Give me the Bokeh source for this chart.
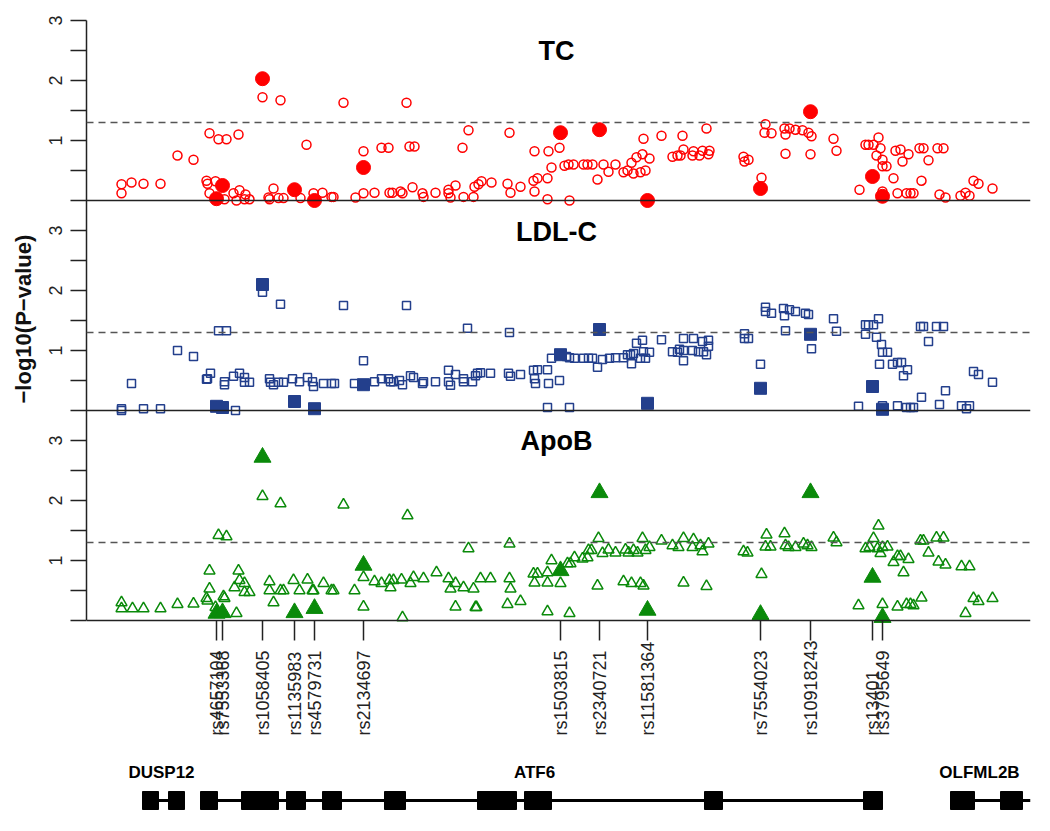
import numpy as np
from bokeh.plotting import figure
from bokeh.models import Range1d, FixedTicker, CustomJSTickFormatter, Span, ColumnDataSource, Title
from bokeh.transform import dodge
from bokeh.core.properties import value
from bokeh.embed import file_html
from bokeh.resources import INLINE

# ---------------- data (positions in kb from region start, values = -log10 P) -------------
snp_names = ["rs4657104", "rs7553368", "rs1058405", "rs1135983", "rs4579731", "rs2134697",
             "rs1503815", "rs2340721", "rs11581364", "rs7554023", "rs10918243", "rs13401", "rs3795649"]
snp_pos = [32.5, 34, 44, 52, 57, 69.25, 118.5, 128.25, 140.25, 168.5, 181, 196.5, 199]
tc_typed = [0.03, 0.25, 2.03, 0.18, 0.0, 0.55, 1.13, 1.18, 0.0, 0.2, 1.48, 0.4, 0.07]
ldl_typed = [0.07, 0.05, 2.1, 0.15, 0.03, 0.43, 0.93, 1.35, 0.12, 0.37, 1.27, 0.4, 0.02]
apob_typed = [0.12, 0.13, 2.72, 0.13, 0.2, 0.92, 0.83, 2.13, 0.17, 0.1, 2.13, 0.72, 0.05]

tc_pos = [8.75, 8.75, 11.25, 14.25, 18.5, 22.75, 26.75, 30, 30.25, 30.75, 30.75, 32.25, 33, 34.5, 35, 36.75, 37.5, 38, 38.25, 39.5, 39.75, 40.75, 44, 45.5, 45.75, 46.75, 48, 48.5, 49.25, 53.5, 55, 56.75, 59, 61.25, 61.75, 64.25,
          67.25, 69.25, 69.25, 72, 73.75, 75.5, 75.75, 76.5, 78.5, 79, 80, 80.75, 81.5, 82, 84, 84.25, 87.25, 90.5, 90.5, 91, 92.25, 94, 94.25, 95.5, 96.75, 97, 98, 98.75, 101.25, 105.25, 105.75, 106, 108.5, 111.75, 112, 112, 112.75, 115.25, 115.25, 115.5, 116.25, 118.25, 119.5, 120.5, 120.75, 121.75, 124.25, 125.25, 126.5, 127.75, 129.25, 130.5, 132.25, 134.25, 135.25, 136.25, 136.75, 137.5, 138.5, 139, 139.25, 139.75, 140.75, 143.75, 146.5, 147.75, 148.5, 149, 149.25,
          151.5, 151.75, 153.25, 154, 155, 155.5, 155.75, 164.25, 164.5, 165.5, 168.75, 169.5, 169.75, 171.25, 174.5, 174.75, 174.75, 175.75, 177.25, 179, 180.5, 181, 181.25, 186.75, 187.5, 193.25, 194.75, 195.5, 196.75, 197.5, 198, 198.5, 199, 199, 199, 200, 201.75, 202.25, 202.75, 203.5, 204, 205, 205.5, 206, 206.75, 208.25, 208.75, 209.25, 210.5, 212.75, 213.25, 214.25, 214.75, 218.5, 219.75, 220.75, 221.75, 223, 226.5]
tc_val = [0.27, 0.12, 0.30, 0.28, 0.28, 0.75, 0.68, 0.33, 0.28, 1.12, 0.12, 0.32, 1.02, 0.02, 1.02, 0.12, 0.0, 1.10, 0.17, 0.02, 0.10, 0.02, 1.72, 0.05, 0.02, 0.20, 0.04, 1.67, 0.04, 0.04, 0.93, 0.12, 0.13, 0.06, 0.06, 1.63,
          0.05, 0.82, 0.12, 0.13, 0.88, 0.88, 0.13, 0.13, 0.15, 0.12, 1.63, 0.90, 0.22, 0.90, 0.12, 0.06, 0.13, 0.18, 0.12, 0.05, 0.25, 0.88, 0.06, 1.17, 0.06, 0.23, 0.27, 0.32, 0.30, 0.28, 1.13, 0.13, 0.23, 0.33, 0.82, 0.15, 0.37, 0.37, 0.02, 0.82, 0.55, 0.88, 0.58, 0.60, 0.0, 0.60, 0.60, 0.60, 0.60, 0.35, 0.60, 0.48, 0.60, 0.47, 0.50, 0.63, 0.45, 0.72, 0.47, 0.77, 1.03, 0.50, 0.70, 1.08, 0.73, 0.75, 0.75, 1.08, 0.85,
          0.75, 0.82, 0.75, 0.83, 1.20, 0.77, 0.83, 0.73, 0.65, 0.68, 0.38, 1.13, 1.27, 1.12, 1.20, 1.10, 0.78, 1.20, 1.18, 1.17, 1.13, 0.77, 1.07, 1.03, 0.83, 0.18, 0.93, 0.93, 0.93, 0.75, 1.05, 0.87, 0.68, 0.57, 0.15, 0.57, 0.37, 0.83, 0.12, 0.85, 0.65, 0.12, 0.77, 0.12, 0.12, 0.87, 0.33, 0.87, 0.67, 0.87, 0.10, 0.87, 0.05, 0.08, 0.13, 0.08, 0.33, 0.28, 0.20]

ldl_pos = [8.75, 8.75, 11.25, 14.25, 18.5, 22.75, 26.75, 30, 30.25, 31, 33, 35, 34.5, 34.5, 37.25, 36.75, 38.25, 39.5, 39.5, 40.75, 44, 48.5, 45.75, 46, 46.75, 48, 49.25, 51.5, 53.25, 55.25, 56.5, 56.75, 59.25, 61.25, 62, 64.25,
           80, 69.25, 67, 72, 73.75, 75.5, 76, 76.75, 78.25, 79, 81, 81.75, 84, 84.25, 87.25, 90.5, 90.5, 91, 92.25, 94.25, 94.25, 96.5, 97.25, 97.75, 98.5, 101, 95.25, 105.75, 105.5, 106, 108.5, 111.75, 112, 112.25, 112.75, 115.25, 115.5, 118.25, 115.25, 120.75, 116.25, 120, 120.75, 122, 124.25, 125.5, 126.5, 127.75, 129, 130.75, 132.25, 134.25, 135.25, 136, 136.25, 136.75, 137.5, 138.5, 139, 139.25, 139.75, 140.75, 143.75, 146.5, 147.75, 148.25, 149.25, 149.25,
           149.25, 151.75, 151.5, 153, 154, 154.25, 155.5, 155.5, 155, 164.5, 164.5, 165.5, 168.5, 169.75, 169.75, 171.25, 174.25, 174.5, 175.75, 177.25, 179.75, 180.5, 174.75, 181.25, 186.75, 187.5, 193, 194.75, 194.75, 195.5, 196.75, 198, 197.5, 198.75, 199, 200.25, 198.25, 201.5, 202.75, 203.75, 204.25, 205.25, 199, 202.75, 205, 206, 206.75, 208.75, 208.5, 209.25, 210.5, 212.5, 214.25, 214.75, 213.25, 218.75, 220, 220.75, 221.75, 223, 226.5]
ldl_val = [0.03, 0.0, 0.45, 0.03, 0.03, 1.00, 0.90, 0.52, 0.53, 0.62, 1.33, 1.33, 0.48, 0.43, 0.0, 0.57, 0.62, 0.55, 0.47, 0.47, 1.97, 1.77, 0.53, 0.47, 0.43, 0.47, 0.47, 0.53, 0.48, 0.55, 0.48, 0.40, 0.45, 0.45, 0.45, 1.75,
           1.75, 0.83, 0.45, 0.48, 0.53, 0.53, 0.48, 0.48, 0.50, 0.43, 0.58, 0.55, 0.45, 0.48, 0.48, 0.67, 0.48, 0.42, 0.60, 0.53, 0.48, 0.48, 0.58, 0.62, 0.63, 0.62, 1.37, 1.30, 0.62, 0.57, 0.60, 0.67, 0.53, 0.45, 0.68, 0.68, 0.45, 0.50, 0.05, 0.05, 0.87, 0.90, 0.88, 0.87, 0.87, 0.87, 0.87, 0.72, 0.85, 0.87, 0.88, 0.88, 0.93, 0.93, 0.78, 0.95, 1.12, 0.87, 1.17, 0.98, 0.87, 0.97, 1.18, 0.98, 0.97, 1.02, 1.20, 0.83,
           1.00, 1.20, 1.00, 0.98, 1.15, 0.98, 1.17, 1.07, 0.93, 1.28, 1.20, 1.20, 0.77, 1.72, 1.65, 1.62, 1.70, 1.58, 1.68, 1.65, 1.62, 1.60, 1.33, 1.03, 1.53, 1.32, 0.07, 1.43, 1.27, 1.43, 1.43, 1.53, 1.22, 1.10, 0.97, 0.97, 0.77, 0.77, 0.80, 0.80, 0.58, 0.68, 0.08, 0.08, 0.05, 0.05, 0.05, 0.22, 1.40, 1.40, 1.15, 1.40, 1.40, 0.33, 0.10, 0.08, 0.03, 0.08, 0.65, 0.60, 0.47]

apob_pos = [8.75, 8.75, 11.5, 14.25, 18.5, 22.75, 26.75, 30.75, 30.75, 30, 30.25, 32.25, 33, 35, 34.25, 34.5, 37.5, 38, 38.25, 37, 39.5, 39.5, 40.75, 44, 48.5, 45.75, 45.75, 46.75, 48.5, 49.25, 51.75, 53.25, 55.25, 56.5, 56.75, 59.25, 61.25, 61.75, 64.25,
            80.25, 67, 69.25, 69.25, 72, 73.75, 75.75, 76, 76.75, 78.75, 79, 81, 81.75, 84.25, 87.5, 90.5, 91, 92.25, 92.25, 94.25, 96.75, 97.25, 97.5, 98.5, 101, 95.5, 105.75, 105.75, 106, 105.25, 108.5, 111.75, 112, 112.75, 115.25, 115.25, 115.25, 116.25, 118.5, 120.75, 120.25, 121, 122, 124, 125.25, 125.5, 126.25, 127.75, 128, 129, 130.5, 132.25, 134.25, 134.75, 135.5, 136.25, 136.75, 137.75, 138.5, 139, 139.25, 139.75, 140.75, 143.75, 146.5, 148, 149.25, 149.25,
            151.75, 151.5, 153.5, 154, 155.5, 155, 164.25, 165.25, 168.75, 170, 169.75, 171, 174.5, 174.75, 175.5, 177.25, 179.25, 180.25, 181.25, 186.75, 187.5, 193, 194.75, 195.75, 196.75, 198, 197.75, 198.5, 199, 200.25, 199, 201.75, 202.75, 203.5, 204.25, 205.5, 202.75, 205, 206, 206.75, 208.75, 208.5, 209.25, 210.5, 212.5, 214.25, 213, 214.75, 218.75, 220.75, 219.75, 221.75, 223, 226.5]
apob_val = [0.30, 0.20, 0.20, 0.20, 0.20, 0.27, 0.28, 0.83, 0.53, 0.37, 0.33, 0.22, 1.42, 1.40, 0.40, 0.37, 0.12, 0.83, 0.67, 0.55, 0.62, 0.47, 0.47, 2.07, 1.95, 0.65, 0.50, 0.30, 0.50, 0.50, 0.67, 0.50, 0.68, 0.50, 0.50, 0.62, 0.50, 0.50, 1.93,
            1.75, 0.50, 0.72, 0.23, 0.65, 0.62, 0.67, 0.55, 0.67, 0.68, 0.05, 0.62, 0.72, 0.70, 0.80, 0.70, 0.53, 0.23, 0.62, 0.55, 0.53, 0.22, 0.22, 0.70, 0.70, 1.20, 1.28, 0.70, 0.53, 0.27, 0.32, 0.78, 0.63, 0.78, 0.80, 0.63, 0.15, 1.00, 0.62, 0.12, 0.95, 0.95, 1.05, 1.03, 1.05, 1.17, 1.17, 0.58, 1.37, 1.12, 1.18, 1.13, 0.65, 1.18, 1.13, 0.62, 1.17, 1.13, 0.62, 1.37, 0.58, 1.17, 1.22, 1.33, 1.25, 1.22, 1.37, 0.63,
            1.35, 1.22, 1.25, 1.15, 1.28, 0.57, 1.15, 1.13, 0.77, 1.43, 1.23, 1.23, 1.45, 1.25, 1.22, 1.22, 1.28, 1.25, 1.22, 1.38, 1.30, 0.25, 1.20, 1.22, 1.37, 1.58, 1.20, 1.12, 1.22, 1.23, 0.27, 0.97, 1.07, 1.07, 0.80, 1.02, 0.23, 0.27, 0.27, 0.25, 0.38, 1.33, 1.33, 1.13, 1.38, 1.38, 0.98, 0.93, 0.90, 0.90, 0.12, 0.37, 0.32, 0.37]

assert len(tc_pos) == len(tc_val), (len(tc_pos), len(tc_val))
assert len(ldl_pos) == len(ldl_val), (len(ldl_pos), len(ldl_val))
assert len(apob_pos) == len(apob_val), (len(apob_pos), len(apob_val))

# gene model (kb)
gene_names = ["DUSP12", "ATF6", "OLFML2B"]
gene_label_pos = [18.75, 112, 223.25]
gene_start = [14, 28.5, 216]
gene_end = [24.5, 199, 236]
exon_start = [14, 20.5, 28.5, 38.75, 50, 59, 74.5, 97.75, 109.5, 154.5, 194.25, 216, 228.5]
exon_end = [18, 24.5, 32.75, 48, 54.75, 63.75, 79.75, 107.5, 116.25, 159, 199, 222, 234]

threshold = 1.3  # -log10(0.05)

# ---------------- layout constants -------------
PANEL_STEP = 3.5
OFF = {"TC": 2 * PANEL_STEP, "LDL": PANEL_STEP, "ApoB": 0.0}
RED = "#FF0000"
BLUE = "#233F8C"
GREEN = "#0A8A0A"
FONT = "Liberation Sans"

p = figure(frame_width=944, frame_height=815,
           x_range=Range1d(0, 236), y_range=Range1d(-3.3833, 10.2),
           output_backend="svg", toolbar_location=None, x_axis_location=None,
           min_border_left=86, min_border_right=12, min_border_top=8, min_border_bottom=0)
p.outline_line_color = None
p.grid.visible = False
p.background_fill_color = "white"

ticks = [o + t for o in (0.0, PANEL_STEP, 2 * PANEL_STEP) for t in np.arange(0, 3.01, 0.5)]
ax = p.yaxis[0]
ax.bounds = (0, 2 * PANEL_STEP + 3)
ax.ticker = FixedTicker(ticks=ticks, minor_ticks=[])
ax.formatter = CustomJSTickFormatter(code="""
    const v = Math.round((tick % 3.5) * 1000) / 1000;
    return (v >= 1 && Math.abs(v - Math.round(v)) < 1e-6) ? String(Math.round(v)) : "";
""")
ax.major_label_orientation = "parallel"
ax.major_tick_out = 16
ax.major_tick_in = 0
ax.minor_tick_out = 0
ax.axis_line_width = 1.5
ax.axis_line_color = "#222222"
ax.major_tick_line_width = 1.5
ax.major_tick_line_color = "#222222"
ax.major_label_text_font = FONT
ax.major_label_text_font_size = "18px"
ax.major_label_text_color = "#222222"
ax.major_label_standoff = 8

# y-axis title (as a left-side title so it can sit over the three panels)
p.add_layout(Title(text="−log10(P−value)", align="left", vertical_align="top", offset=420,
                   standoff=18, text_font=FONT, text_font_style="bold", text_font_size="22px",
                   text_color="#111111"), "left")

for key in ("TC", "LDL", "ApoB"):
    o = OFF[key]
    p.add_layout(Span(location=o, dimension="width", line_color="#222222", line_width=1.5))
    p.add_layout(Span(location=o + threshold, dimension="width", line_color="#555555",
                      line_width=1.3, line_dash="7 5"))

# TC
src = ColumnDataSource(dict(x=tc_pos, v=tc_val))
p.scatter("x", dodge("v", OFF["TC"]), source=src, marker="circle", size=9,
          fill_color=None, line_color=RED, line_width=1.5)
src = ColumnDataSource(dict(x=snp_pos, v=tc_typed))
p.scatter("x", dodge("v", OFF["TC"]), source=src, marker="circle", size=14,
          fill_color=RED, line_color=RED)

# LDL-C
src = ColumnDataSource(dict(x=ldl_pos, v=ldl_val))
p.scatter("x", dodge("v", OFF["LDL"]), source=src, marker="square", size=8,
          fill_color=None, line_color=BLUE, line_width=1.5)
src = ColumnDataSource(dict(x=snp_pos, v=ldl_typed))
p.scatter("x", dodge("v", OFF["LDL"]), source=src, marker="square", size=12,
          fill_color=BLUE, line_color=BLUE)

# ApoB
src = ColumnDataSource(dict(x=apob_pos, v=apob_val))
p.scatter("x", dodge("v", OFF["ApoB"]), source=src, marker="triangle", size=11,
          fill_color=None, line_color=GREEN, line_width=1.5)
src = ColumnDataSource(dict(x=snp_pos, v=apob_typed))
p.scatter("x", dodge("v", OFF["ApoB"]), source=src, marker="triangle", size=17,
          fill_color=GREEN, line_color=GREEN)

# panel titles
titles = ["TC", "LDL-C", "ApoB"]
title_y = [OFF["TC"] + 2.5, OFF["LDL"] + 2.98, OFF["ApoB"] + 3.0]
p.text(x=[117.5] * 3, y=title_y, text=titles, text_align="center", text_baseline="middle",
       text_font=value(FONT), text_font_style="bold", text_font_size="27px", text_color="black")

# SNP ticks and labels
p.segment(x0=snp_pos, y0=[0] * len(snp_pos), x1=snp_pos, y1=[-0.333] * len(snp_pos),
          line_color="#222222", line_width=1.5)
p.text(x=snp_pos, y=[-1.917] * len(snp_pos), text=snp_names, angle=np.pi / 2,
       text_align="left", text_baseline="middle", text_font=value(FONT),
       text_font_size="18px", text_color="#222222")

# gene track
p.segment(x0=gene_start, y0=[-3.0] * 3, x1=gene_end, y1=[-3.0] * 3, line_color="black", line_width=3)
p.quad(left=exon_start, right=exon_end, bottom=[-3.15] * len(exon_start), top=[-2.85] * len(exon_start),
       fill_color="black", line_color="black")
p.text(x=gene_label_pos, y=[-2.53] * 3, text=gene_names, text_align="center", text_baseline="middle",
       text_font=value("'Liberation Sans Narrow', 'Liberation Sans'"), text_font_style="bold",
       text_font_size="17px", text_color="black")

open("out.html", "w").write(file_html(p, INLINE))
